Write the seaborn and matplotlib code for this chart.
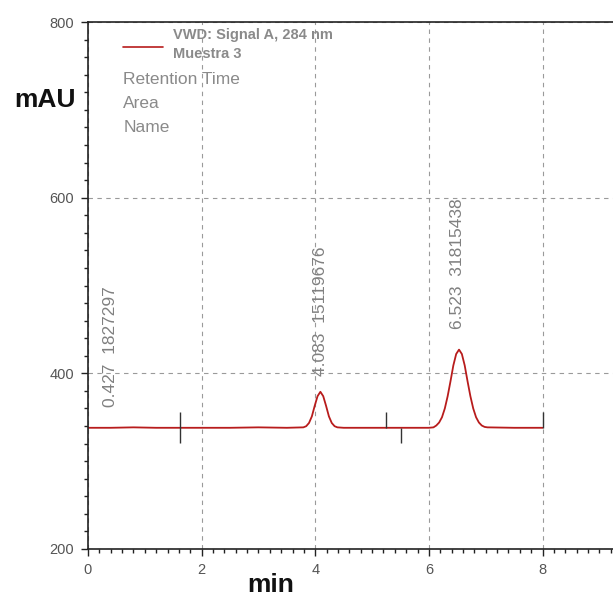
import matplotlib
matplotlib.use("Agg")
import matplotlib.pyplot as plt
import seaborn as sns
import pandas as pd
from matplotlib.ticker import MultipleLocator

# signal trace (min, mAU)
time_min = [0.0, 0.4, 0.8, 1.2, 1.6, 2.0, 2.5, 3.0, 3.5, 3.79, 3.84, 3.89, 3.94, 3.99,
            4.04, 4.09, 4.14, 4.19, 4.24, 4.29, 4.34, 4.39, 4.5, 5.0, 5.5, 6.0, 6.08,
            6.13, 6.18, 6.23, 6.28, 6.33, 6.38, 6.43, 6.48, 6.53, 6.58, 6.63, 6.68,
            6.73, 6.78, 6.83, 6.88, 6.93, 6.98, 7.03, 7.5, 8.0]
signal_mau = [338, 338, 338.5, 338, 338, 338, 338, 338.5, 338, 338.5, 339.8, 343.5, 351,
              363, 374, 379, 374, 363, 351, 343.5, 339.8, 338.5, 338, 338, 338, 338, 338.5,
              340.6, 344, 350, 360, 374, 391, 409, 422, 427, 422, 409, 391,
              374, 360, 350, 344, 340.6, 339, 338.5, 338, 338]

# integration event marks (min, from, to)
event_t = [1.62, 5.25, 5.5, 8.0]
event_lo = [321, 338, 321, 338]
event_hi = [356, 356, 338, 356]

# peak labels
peak_rt = ["0.427", "4.083", "6.523"]
peak_area = ["1827297", "15119676", "31815438"]
label_x = [0.39, 4.1, 6.5]
label_y = [362, 397, 450]

legend_lines = ["VWD: Signal A, 284 nm", "Muestra 3"]
legend_extra = ["Retention Time", "Area", "Name"]

sns.set_style("white")
plt.rcParams["font.family"] = ["Liberation Sans", "DejaVu Sans"]

fig = plt.figure(figsize=(6.13, 6.05), dpi=100)
ax = fig.add_axes([88 / 613, 56 / 605, 1 - 88 / 613, 527 / 605])

df = pd.DataFrame({"t": time_min, "mAU": signal_mau})
sns.lineplot(data=df, x="t", y="mAU", ax=ax, color="#b81c1c", linewidth=1.3)
ax.vlines(event_t, event_lo, event_hi, color="#333333", linewidth=1.0)

ax.set_xlim(0, 9.24)
ax.set_ylim(200, 800)
ax.xaxis.set_major_locator(MultipleLocator(2))
ax.xaxis.set_minor_locator(MultipleLocator(0.2))
ax.yaxis.set_major_locator(MultipleLocator(200))
ax.yaxis.set_minor_locator(MultipleLocator(20))
ax.tick_params(which="major", direction="out", length=5, width=1, color="#222222",
               labelsize=10.5, labelcolor="#555555", left=True, bottom=True, pad=5)
ax.tick_params(which="minor", direction="out", length=3, width=1, color="#222222",
               left=True, bottom=True)
ax.grid(True, which="major", linestyle=(0, (4, 4)), color="#9a9a9a", linewidth=0.8)
ax.set_xlabel("")
ax.set_ylabel("")
for side in ["left", "bottom", "top"]:
    ax.spines[side].set_color("#222222")
    ax.spines[side].set_linewidth(1.2)
ax.spines["right"].set_visible(False)

for x, y, rt, area in zip(label_x, label_y, peak_rt, peak_area):
    ax.text(x, y, rt + "  " + area, rotation=90, ha="center", va="bottom",
            fontsize=12.5, color="#808080")

# legend block
ax.plot([0.62, 1.32], [772, 772], color="#b81c1c", linewidth=1.2)
ax.text(1.5, 785, legend_lines[0], fontsize=10.5, fontweight="bold",
        color="#8a8a8a", va="center")
ax.text(1.5, 764, legend_lines[1], fontsize=10.5, fontweight="bold",
        color="#8a8a8a", va="center")
for i, s in enumerate(legend_extra):
    ax.text(0.62, 734 - i * 27, s, fontsize=12.5, color="#8a8a8a", va="center")

fig.text(45 / 613, 1 - 100 / 605, "mAU", fontsize=19, fontweight="bold",
         ha="center", va="center", color="#111111")
fig.text(271 / 613, 1 - 585 / 605, "min", fontsize=19, fontweight="bold",
         ha="center", va="center", color="#111111")

fig.savefig("out.png", dpi=100)
